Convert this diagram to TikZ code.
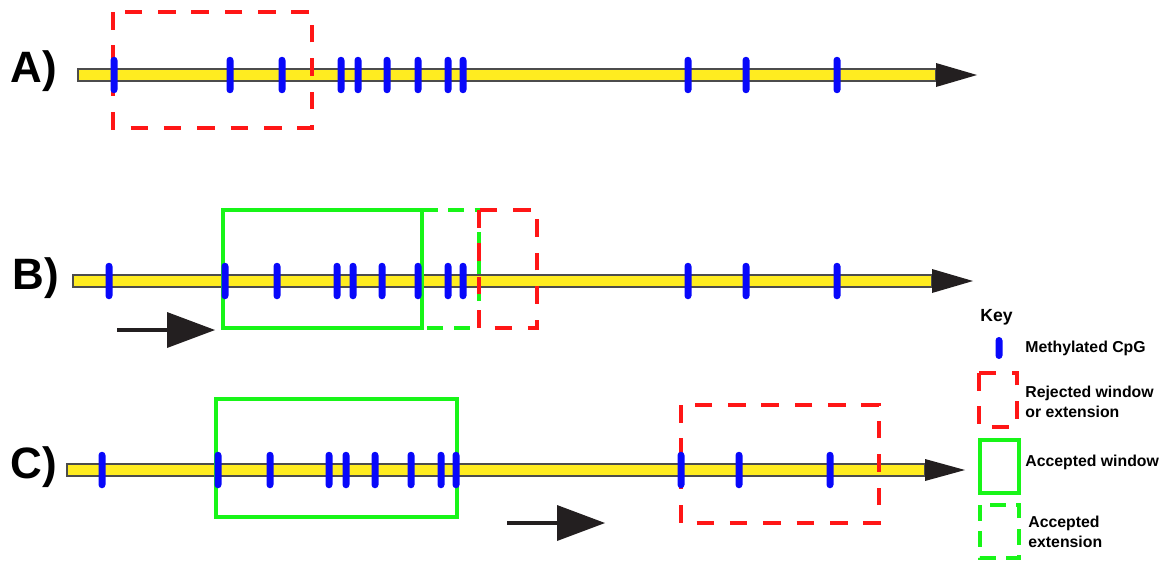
\documentclass[tikz,border=0pt]{standalone}
\usepackage{fontspec}
\setmainfont{Liberation Sans}
\usetikzlibrary{shapes.geometric}

\definecolor{dnayellow}{RGB}{255,236,32}
\definecolor{cpgblue}{RGB}{8,8,250}
\definecolor{rejred}{RGB}{255,22,22}
\definecolor{accgreen}{RGB}{24,245,24}
\definecolor{headgrey}{RGB}{35,31,32}

\begin{document}
\begin{tikzpicture}[
	x=0.02cm, y=-0.02cm,
	font=\fontsize{9}{11.3}\selectfont\bfseries,
	rowlabel/.style={
		anchor=base west, inner sep=0pt,
		font=\fontsize{25}{30}\selectfont\bfseries
	},
	cpg/.style={
		rectangle, rounded corners=2pt, fill=cpgblue, draw=none,
		inner sep=0pt, minimum width=0.14cm, minimum height=0.73cm
	},
	keycpg/.style={cpg, minimum height=0.44cm},
	dna/.style={draw=black!70, fill=dnayellow, line width=0.8pt},
	dnahead/.style={fill=headgrey},
	rejected/.style={draw=rejred, line width=2pt, dash pattern=on 10pt off 9pt},
	accepted/.style={draw=accgreen, line width=2.1pt},
	extension/.style={accepted, dash pattern=on 9pt off 6pt},
	keytext/.style={anchor=west, align=left, inner sep=0pt},
	slide/.style={line width=2.3pt, headgrey}
]
\useasboundingbox (0,0) rectangle (1173,565);

% Row A y=75
\node[rowlabel] (labA) at (10, 82) {A)};
\filldraw[dna] (78, 69) rectangle (936, 81);
\fill[dnahead] (936, 63) -- (977, 75) -- (936, 87) -- cycle;

\draw[rejected] (113, 12) rectangle (312, 128);

\node[cpg] (a1)  at (114, 75) {};
\node[cpg] (a2)  at (230, 75) {};
\node[cpg] (a3)  at (282, 75) {};
\node[cpg] (a4)  at (341, 75) {};
\node[cpg] (a5)  at (358, 75) {};
\node[cpg] (a6)  at (387, 75) {};
\node[cpg] (a7)  at (418, 75) {};
\node[cpg] (a8)  at (448, 75) {};
\node[cpg] (a9)  at (463, 75) {};
\node[cpg] (a10) at (688, 75) {};
\node[cpg] (a11) at (746, 75) {};
\node[cpg] (a12) at (837, 75) {};

% Row B y=281
\node[rowlabel] (labB) at (12, 289) {B)};
\filldraw[dna] (73, 275) rectangle (932, 287);
\fill[dnahead] (932, 269) -- (973, 281) -- (932, 293) -- cycle;

\draw[accepted] (223, 210) rectangle (422, 328);
\draw[extension] (422, 210) -- (479, 210) -- (479, 328) -- (422, 328);
\draw[rejected] (479, 210) rectangle (537, 328);

\node[cpg] (b1)  at (109, 281) {};
\node[cpg] (b2)  at (225, 281) {};
\node[cpg] (b3)  at (277, 281) {};
\node[cpg] (b4)  at (337, 281) {};
\node[cpg] (b5)  at (353, 281) {};
\node[cpg] (b6)  at (382, 281) {};
\node[cpg] (b7)  at (418, 281) {};
\node[cpg] (b8)  at (448, 281) {};
\node[cpg] (b9)  at (463, 281) {};
\node[cpg] (b10) at (688, 281) {};
\node[cpg] (b11) at (746, 281) {};
\node[cpg] (b12) at (837, 281) {};

\draw[slide] (117, 330) -- (170, 330);
\fill[headgrey] (167, 312) -- (215, 330) -- (167, 348) -- cycle;

% Row C y=470
\node[rowlabel] (labC) at (10, 478) {C)};
\filldraw[dna] (67, 464) rectangle (925, 476);
\fill[dnahead] (925, 459) -- (965, 470) -- (925, 481) -- cycle;

\draw[accepted] (216, 399) rectangle (457, 517);
\draw[rejected] (681, 405) rectangle (879, 523);

\node[cpg] (c1)  at (102, 470) {};
\node[cpg] (c2)  at (218, 470) {};
\node[cpg] (c3)  at (270, 470) {};
\node[cpg] (c4)  at (329, 470) {};
\node[cpg] (c5)  at (346, 470) {};
\node[cpg] (c6)  at (375, 470) {};
\node[cpg] (c7)  at (411, 470) {};
\node[cpg] (c8)  at (441, 470) {};
\node[cpg] (c9)  at (456, 470) {};
\node[cpg] (c10) at (681, 470) {};
\node[cpg] (c11) at (739, 470) {};
\node[cpg] (c12) at (830, 470) {};

\draw[slide] (507, 523) -- (560, 523);
\fill[headgrey] (557, 505) -- (605, 523) -- (557, 541) -- cycle;

% Key x=980
\node[anchor=base west, inner sep=0pt, font=\fontsize{10}{12}\selectfont\bfseries]
	(keyhead) at (980, 321) {Key};

\node[keycpg] (keymark) at (999, 348) {};
\node[keytext] (keymeth) at (1025, 348) {Methylated CpG};

\draw[rejected] (979, 373) rectangle (1017, 427);
\node[keytext] (keyrej) at (1025, 402) {Rejected window\\or extension};

\draw[accepted] (980, 440) rectangle (1019, 493);
\node[keytext] (keyacc) at (1025, 462) {Accepted window};

\draw[extension] (980, 505) rectangle (1019, 558);
\node[keytext] (keyext) at (1028, 532) {Accepted\\extension};

\end{tikzpicture}
\end{document}
